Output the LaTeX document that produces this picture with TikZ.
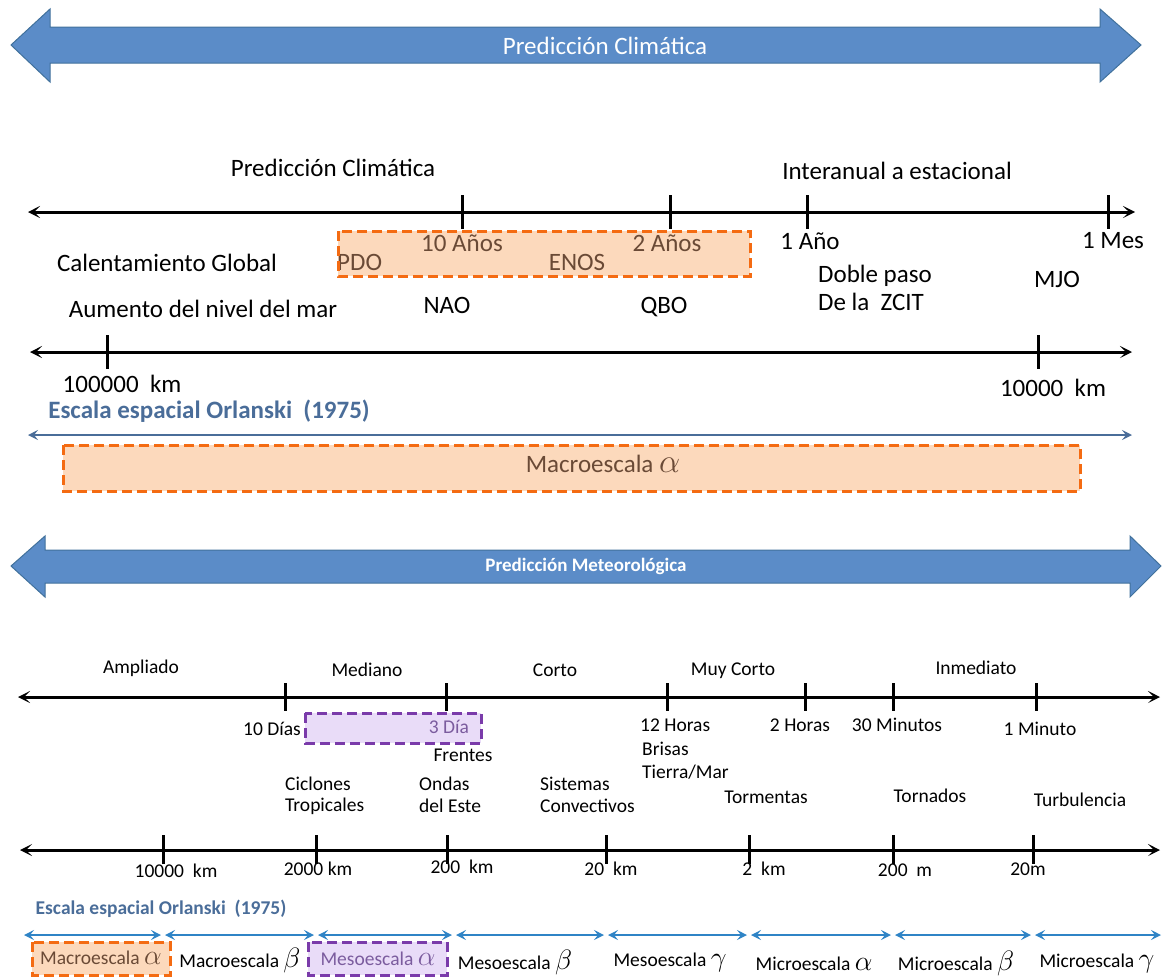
\documentclass[tikz,border=0pt]{standalone}
\usepackage{fontspec}
\usepackage{graphicx}
\setmainfont{Carlito}
\usetikzlibrary{arrows.meta}
\definecolor{bandblue}{HTML}{5B8CC8}
\definecolor{bandedge}{HTML}{41719C}
\definecolor{dashorange}{HTML}{F46B12}
\definecolor{fillorange}{HTML}{FCD9BC}
\definecolor{dashpurple}{HTML}{7A3BAA}
\definecolor{fillpurple}{HTML}{E9DCF8}
\definecolor{scaleblue}{HTML}{4A6D99}
\definecolor{arrowblue}{HTML}{2F84C6}
\definecolor{inorange}{HTML}{6A4A36}
\definecolor{inpurple}{HTML}{7B5C9E}
\newcommand{\gr}[1]{\scalebox{1.35}{$#1$}}
\tikzset{
  big/.style={font=\fontsize{25}{29}\selectfont, inner sep=0pt},
  small/.style={font=\fontsize{19.5}{22}\selectfont, inner sep=0pt},
  band/.style={fill=bandblue, draw=bandedge, line width=1pt},
  axisline/.style={line width=3pt, {Stealth[length=12pt,width=12pt,inset=6pt]}-{Stealth[length=12pt,width=12pt,inset=6pt]}},
  tickmark/.style={line width=3pt},
  scaleline/.style={draw=scaleblue, line width=2.2pt, {Stealth[length=10pt,width=10pt,inset=4pt]}-{Stealth[length=10pt,width=10pt,inset=4pt]}},
  rangeline/.style={draw=arrowblue, line width=2.2pt, {Stealth[length=10pt,width=10pt,inset=4pt]}-{Stealth[length=10pt,width=10pt,inset=4pt]}},
  orangeframe/.style={draw=dashorange, line width=3pt, dash pattern=on 10pt off 5pt},
  purpleframe/.style={draw=dashpurple, line width=3pt, dash pattern=on 10pt off 5pt},
}
\begin{document}
\begin{tikzpicture}[x=1pt,y=-1pt]
\useasboundingbox (0,0) rectangle (1169,978);

% ---------- climate prediction band ----------
\draw[band] (11,45) -- (50,9) -- (50,27) -- (1100,27) -- (1100,9) -- (1141,45)
  -- (1100,82) -- (1100,63) -- (50,63) -- (50,82) -- cycle;
\node[big, text=white] (climband) at (605,46) {Predicción Climática};

% ---------- climate time axis ----------
\node[big] (climtitle) at (333,168) {Predicción Climática};
\node[big] (inter) at (897,171) {Interanual a estacional};
\coordinate (ta1) at (28,212);
\coordinate (ta2) at (1135,212);
\coordinate (y10) at (462,212);
\coordinate (y2) at (670,212);
\coordinate (y1) at (807,212);
\coordinate (m1) at (1108,212);

\fill[fillorange] (338,231) rectangle (750,276);
\node[big, text=inorange] (l10y) at (462,243) {10 Años};
\node[big, text=inorange] (l2y) at (667,243) {2 Años};
\node[big, text=inorange, anchor=west] (pdo) at (337,262) {PDO};
\node[big, text=inorange] (enos) at (577,262) {ENOS};
\draw[orangeframe] (338,231) rectangle (750,276);

\draw[axisline] (ta1) -- (ta2);
\foreach \c in {y10,y2,y1,m1} \draw[tickmark] (\c) ++(0,-17) -- ++(0,34);

\node[big] (l1y) at (810,241) {1 Año};
\node[big] (l1m) at (1113,241) {1 Mes};
\node[big] (calg) at (167,263) {Calentamiento Global};
\node[big, anchor=west] (doble) at (818,276) {Doble paso};
\node[big, anchor=west] (zcit) at (818,302) {De la\ \ ZCIT};
\node[big] (mjo) at (1057,279) {MJO};
\node[big] (mar) at (203,309) {Aumento del nivel del mar};
\node[big] (nao) at (447,305) {NAO};
\node[big] (qbo) at (664,307) {QBO};

% ---------- climate space axis ----------
\coordinate (sa1) at (30,352);
\coordinate (sa2) at (1132,352);
\coordinate (k100000) at (107,352);
\coordinate (k10000) at (1038,352);
\draw[axisline] (sa1) -- (sa2);
\foreach \c in {k100000,k10000} \draw[tickmark] (\c) ++(0,-17) -- ++(0,34);
\node[big] (lk100000) at (122,384) {100000\ \ km};
\node[big] (lk10000) at (1053,388) {10000\ \ km};

\node[text=scaleblue, inner sep=0pt, font=\fontsize{25}{29}\selectfont\bfseries] (orl1) at (209,411) {Escala espacial Orlanski\ \ (1975)};
\coordinate (sc1) at (28,435);
\coordinate (sc2) at (1132,435);
\draw[scaleline] (sc1) -- (sc2);

\fill[fillorange] (63,445) rectangle (1080,491);
\node[big, text=inorange] (macroA) at (603,464) {Macroescala \gr{\alpha}};
\draw[orangeframe] (63,445) rectangle (1080,491);

% ---------- weather prediction band ----------
\draw[band] (11,566) -- (45,536) -- (45,550) -- (1130,550) -- (1130,536) -- (1161,566)
  -- (1130,597) -- (1130,583) -- (45,583) -- (45,597) -- cycle;
\node[text=white, inner sep=0pt, font=\fontsize{19}{22}\selectfont\bfseries] (metband) at (586,566) {Predicción Meteorológica};

% ---------- weather time axis ----------
\node[small] (ampl) at (141,668) {Ampliado};
\node[small] (medi) at (367,670) {Mediano};
\node[small] (cort) at (555,670) {Corto};
\node[small] (muyc) at (733,671) {Muy Corto};
\node[small] (inme) at (976,668) {Inmediato};

\coordinate (wa1) at (18,697);
\coordinate (wa2) at (1160,697);
\coordinate (d10) at (285,697);
\coordinate (d3) at (446,697);
\coordinate (h12) at (667,697);
\coordinate (h2) at (805,697);
\coordinate (min30) at (893,697);
\coordinate (min1) at (1036,697);

\fill[fillpurple] (305,713) rectangle (481,743);
\node[small, text=inpurple] (l3d) at (449,727) {3 Día};
\draw[purpleframe] (305,713) rectangle (481,743);

\draw[axisline] (wa1) -- (wa2);
\foreach \c in {d10,d3,h12,h2,min30,min1} \draw[tickmark] (\c) ++(0,-14) -- ++(0,28);

\node[small] (l10d) at (272,729) {10 Días};
\node[small] (frentes) at (463,755) {Frentes};
\node[small, anchor=west] (l12h) at (640,725) {12 Horas};
\node[small, anchor=west] (brisas) at (642,749) {Brisas};
\node[small, anchor=west] (tierra) at (642,772) {Tierra/Mar};
\node[small] (l2h) at (800,725) {2 Horas};
\node[small] (l30m) at (897,725) {30 Minutos};
\node[small] (l1min) at (1040,729) {1 Minuto};

\node[small, anchor=west] (cicl) at (285,784) {Ciclones};
\node[small, anchor=west] (trop) at (285,806) {Tropicales};
\node[small, anchor=west] (ondas) at (419,784) {Ondas};
\node[small, anchor=west] (deleste) at (419,806) {del Este};
\node[small, anchor=west] (sist) at (540,784) {Sistemas};
\node[small, anchor=west] (conv) at (540,806) {Convectivos};
\node[small] (torm) at (766,797) {Tormentas};
\node[small] (torn) at (930,796) {Tornados};
\node[small] (turb) at (1080,800) {Turbulencia};

% ---------- weather space axis ----------
\coordinate (wb1) at (20,850);
\coordinate (wb2) at (1160,850);
\coordinate (s10000) at (163,850);
\coordinate (s2000) at (316,850);
\coordinate (s200) at (447,850);
\coordinate (s20) at (606,850);
\coordinate (s2) at (749,850);
\coordinate (s200m) at (893,850);
\coordinate (s20m) at (1033,850);
\draw[axisline] (wb1) -- (wb2);
\foreach \c in {s10000,s2000,s200,s20,s2,s200m,s20m} \draw[tickmark] (\c) ++(0,-15) -- ++(0,29);
\node[small] (ls10000) at (176,871) {10000\ \ km};
\node[small] (ls2000) at (318,869) {2000 km};
\node[small] (ls200) at (462,867) {200\ \ km};
\node[small] (ls20) at (611,869) {20\ \ km};
\node[small] (ls2) at (764,869) {2\ \ km};
\node[small] (ls200m) at (905,870) {200\ \ m};
\node[small] (ls20m) at (1028,869) {20m};

\node[text=scaleblue, inner sep=0pt, font=\fontsize{19.5}{22}\selectfont\bfseries] (orl2) at (161,909) {Escala espacial Orlanski\ \ (1975)};

% ---------- Orlanski ranges ----------
\coordinate (r0) at (22,935);
\coordinate (r1) at (163,935);
\coordinate (r2) at (316,935);
\coordinate (r3) at (454,935);
\coordinate (r4) at (606,935);
\coordinate (r5) at (749,935);
\coordinate (r6) at (893,935);
\coordinate (r7) at (1033,935);
\coordinate (r8) at (1163,935);
\foreach \a/\b in {r0/r1,r1/r2,r2/r3,r3/r4,r4/r5,r5/r6,r6/r7,r7/r8}
  \draw[rangeline] ([xshift=2pt]\a) -- ([xshift=-2pt]\b);

\fill[fillorange] (32,942) rectangle (170,975);
\node[small, text=inorange] (oMacA) at (101,958) {Macroescala \gr{\alpha}};
\draw[orangeframe] (32,942) rectangle (170,975);
\node[small] (oMacB) at (240,960) {Macroescala \gr{\beta}};
\fill[fillpurple] (308,942) rectangle (447,975);
\node[small, text=inpurple] (oMesA) at (378,959) {Mesoescala \gr{\alpha}};
\draw[purpleframe] (308,942) rectangle (447,975);
\node[small] (oMesB) at (515,962) {Mesoescala \gr{\beta}};
\node[small] (oMesG) at (670,962) {Mesoescala \gr{\gamma}};
\node[small] (oMicA) at (814,964) {Microescala \gr{\alpha}};
\node[small] (oMicB) at (956,963) {Microescala \gr{\beta}};
\node[small] (oMicG) at (1097,963) {Microescala \gr{\gamma}};
\end{tikzpicture}
\end{document}
